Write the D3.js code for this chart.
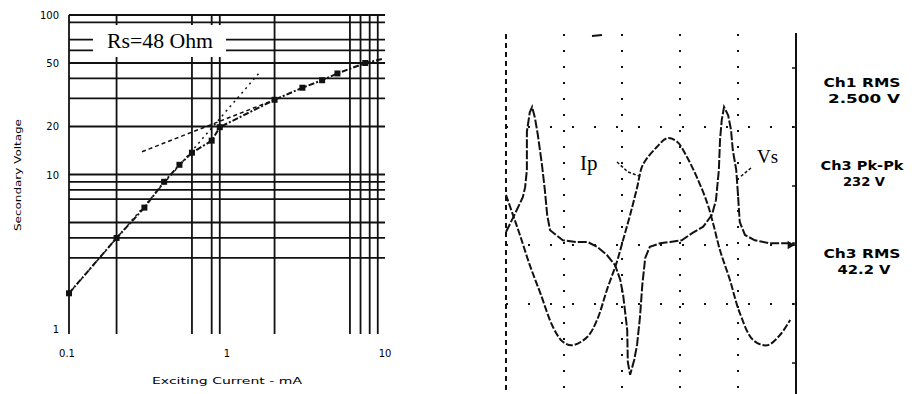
<!DOCTYPE html>
<html>
<head>
<meta charset="utf-8">
<script src="https://cdn.jsdelivr.net/npm/d3@7"></script>
<style>
  body { margin: 0; background: #fff; }
  svg { display: block; }
</style>
</head>
<body>
<svg id="chart"></svg>
<script>
const width = 922, height = 394;

// ---- left chart: excitation curve (log-log) ----
const yGridValues = [100, 90, 70, 60, 50, 40, 30, 20, 10, 9, 8, 7, 5, 4, 3];
const xGridValues = [0.1, 0.2, 0.6, 0.8, 0.9, 2, 6, 7, 8, 9];
const yTickLabels = [100, 50, 20, 10, 1];
const xTickLabels = ["0.1", "1", "10"];
const xTickValues = [0.1, 1, 10];

// measured points, current in mA, voltage in V
const excCurrent = [0.1, 0.2, 0.3, 0.4, 0.5, 0.6, 0.8, 0.9, 2, 3, 4, 5, 7.5, 9.6];
const excVoltage = [1.8, 4.0, 6.2, 9.0, 11.5, 13.7, 16.3, 19.8, 29.4, 35, 39, 43, 50, 53];
const markerIdx = [0, 1, 2, 3, 4, 5, 6, 7, 8, 9, 10, 11, 12];

// tangent lines drawn through the curve
const steepLine = [{ x: 0.1, y: 1.8 }, { x: 1.62, y: 44 }];
const shallowLine = [{ x: 0.29, y: 13.9 }, { x: 2, y: 29.4 }];

// ---- right chart: scope traces (x, y in divisions) ----
const ipTime = [0, 0.12, 0.24, 0.41, 0.59, 0.81, 0.98, 1.14, 1.4, 1.57, 1.74, 1.91, 2.02, 2.14, 2.26, 2.36, 2.6, 2.78, 2.95, 3.12, 3.29, 3.47, 3.57, 3.69, 3.86, 4.03, 4.26, 4.5, 4.72, 4.9];
const ipValue = [0.85, 0.51, 0.17, -0.34, -0.81, -1.39, -1.64, -1.7, -1.56, -1.27, -0.76, -0.29, 0.09, 0.51, 0.97, 1.36, 1.66, 1.81, 1.75, 1.49, 1.15, 0.71, 0.37, -0.09, -0.59, -1.15, -1.61, -1.7, -1.53, -1.27];

const vsTime = [0, 0.16, 0.29, 0.33, 0.36, 0.36, 0.41, 0.45, 0.5, 0.55, 0.62, 0.67, 0.71, 0.76, 0.98, 1.22, 1.41, 1.57, 1.74, 1.88, 1.97, 2.02, 2.09, 2.1, 2.14, 2.21, 2.26, 2.31, 2.35, 2.4, 2.48, 2.66, 2.83, 3.03, 3.21, 3.4, 3.55, 3.62, 3.67, 3.69, 3.72, 3.76, 3.83, 3.88, 3.91, 3.97, 4.0, 4.03, 4.12, 4.29, 4.55, 4.98];
const vsValue = [0.22, 0.54, 0.81, 0.98, 1.27, 1.92, 2.25, 2.34, 2.15, 1.86, 1.36, 0.93, 0.51, 0.25, 0.08, 0.05, 0.05, -0.03, -0.17, -0.34, -0.59, -0.85, -1.44, -1.98, -2.2, -1.95, -1.69, -1.22, -0.68, -0.22, -0.03, 0.03, 0.05, 0.08, 0.2, 0.31, 0.51, 0.76, 1.27, 1.78, 2.12, 2.34, 2.2, 1.95, 1.61, 1.27, 0.85, 0.39, 0.17, 0.08, 0.03, 0.03];

const gridDivX = [1, 2, 3, 4];
const gridDivY = [2, 0, -1];
const edgeTicks = [3, 2, 1, 0, -1, -2];

const readoutTitles = ["Ch1 RMS", "Ch3 Pk-Pk", "Ch3 RMS"];
const readoutValues = ["2.500 V", "232 V", "42.2 V"];

const svg = d3.select("#chart")
    .attr("width", width)
    .attr("height", height)
    .attr("viewBox", [0, 0, width, height]);

// ===== left chart =====
const x = d3.scaleLog().domain([0.1, 10]).range([69, 385]);
const y = d3.scaleLog().domain([1, 100]).range([334, 15]);

const left = svg.append("g");

left.append("g")
    .selectAll("line")
    .data(yGridValues)
    .enter()
    .append("line")
    .attr("x1", x(0.1))
    .attr("x2", x(10))
    .attr("y1", d => y(d))
    .attr("y2", d => y(d))
    .attr("stroke", "#111")
    .attr("stroke-width", 1.8);

left.append("g")
    .selectAll("line")
    .data(xGridValues)
    .enter()
    .append("line")
    .attr("x1", d => x(d))
    .attr("x2", d => x(d))
    .attr("y1", y(100))
    .attr("y2", y(1))
    .attr("stroke", "#111")
    .attr("stroke-width", 1.8);

// label box covers the grid
left.append("rect")
    .attr("x", 93).attr("y", 25)
    .attr("width", 133).attr("height", 32)
    .attr("fill", "#fff");

left.append("text")
    .attr("x", 107).attr("y", 48)
    .attr("textLength", 106)
    .attr("lengthAdjust", "spacingAndGlyphs")
    .style("font-family", "'Liberation Serif', 'DejaVu Serif', serif")
    .style("font-size", "20px")
    .text("Rs=48 Ohm");

// tick labels
left.append("g")
    .selectAll("text")
    .data(yTickLabels)
    .enter()
    .append("text")
    .attr("x", 59)
    .attr("y", d => y(d) + (d === 1 ? -1 : 4))
    .attr("text-anchor", "end")
    .style("font-family", "'DejaVu Sans', sans-serif")
    .style("font-size", "10px")
    .text(d => d);

left.append("g")
    .selectAll("text")
    .data(xTickValues)
    .enter()
    .append("text")
    .attr("x", d => x(d) + (d === 0.1 ? -2 : 0))
    .attr("y", 357)
    .attr("text-anchor", "middle")
    .style("font-family", "'DejaVu Sans', sans-serif")
    .style("font-size", "10px")
    .text((d, i) => xTickLabels[i]);

left.append("text")
    .attr("transform", "translate(21,175) rotate(-90)")
    .attr("text-anchor", "middle")
    .attr("textLength", 112)
    .attr("lengthAdjust", "spacingAndGlyphs")
    .attr("fill", "#000")
    .style("font-family", "'DejaVu Sans', sans-serif")
    .style("font-size", "9px")
    .text("Secondary Voltage");

left.append("text")
    .attr("x", 227).attr("y", 384)
    .attr("text-anchor", "middle")
    .attr("textLength", 150)
    .attr("lengthAdjust", "spacingAndGlyphs")
    .style("font-family", "'DejaVu Sans', sans-serif")
    .style("font-size", "9px")
    .text("Exciting Current - mA");

// curves
const pts = excCurrent.map((c, i) => ({ x: c, y: excVoltage[i] }));
const line = d3.line().x(d => x(d.x)).y(d => y(d.y));

left.append("path")
    .attr("d", line(steepLine))
    .attr("fill", "none")
    .attr("stroke", "#111")
    .attr("stroke-width", 1.5)
    .attr("stroke-dasharray", "2,4");

left.append("path")
    .attr("d", line(shallowLine))
    .attr("fill", "none")
    .attr("stroke", "#111")
    .attr("stroke-width", 1.5)
    .attr("stroke-dasharray", "4,3");

left.append("path")
    .attr("d", line(pts))
    .attr("fill", "none")
    .attr("stroke", "#111")
    .attr("stroke-width", 2)
    .attr("stroke-dasharray", "6,2,2,2");

left.append("g")
    .selectAll("path")
    .data(markerIdx.map(i => pts[i]))
    .enter()
    .append("path")
    .attr("transform", d => `translate(${x(d.x)},${y(d.y)})`)
    .attr("d", d3.symbol().type(d3.symbolSquare).size(36))
    .attr("fill", "#111");

// ===== right chart: scope capture =====
const sx = d3.scaleLinear().domain([0, 5]).range([506, 796]);
const sy = d3.scaleLinear().domain([0, 2]).range([245, 127]);

const scope = svg.append("g");

// dotted graticule
scope.append("g")
    .selectAll("line")
    .data(gridDivX)
    .enter()
    .append("line")
    .attr("x1", d => sx(d)).attr("x2", d => sx(d))
    .attr("y1", 34).attr("y2", 394)
    .attr("stroke", "#111")
    .attr("stroke-width", 2)
    .attr("stroke-dasharray", "2,14");

scope.append("g")
    .selectAll("line")
    .data(gridDivY)
    .enter()
    .append("line")
    .attr("x1", sx(0)).attr("x2", sx(5))
    .attr("y1", d => sy(d)).attr("y2", d => sy(d))
    .attr("stroke", "#111")
    .attr("stroke-width", 2)
    .attr("stroke-dasharray", "2,20");

// left edge (dense dots) and right frame
scope.append("line")
    .attr("x1", sx(0)).attr("x2", sx(0))
    .attr("y1", 34).attr("y2", 394)
    .attr("stroke", "#111")
    .attr("stroke-width", 2)
    .attr("stroke-dasharray", "5,4");

scope.append("line")
    .attr("x1", sx(5)).attr("x2", sx(5))
    .attr("y1", 33).attr("y2", 394)
    .attr("stroke", "#111")
    .attr("stroke-width", 2);

scope.append("g")
    .selectAll("line")
    .data(edgeTicks)
    .enter()
    .append("line")
    .attr("x1", sx(5) - 4).attr("x2", sx(5))
    .attr("y1", d => sy(d)).attr("y2", d => sy(d))
    .attr("stroke", "#111")
    .attr("stroke-width", 1.5);

// trigger mark at the top
scope.append("line")
    .attr("x1", 592).attr("x2", 602)
    .attr("y1", 36).attr("y2", 35)
    .attr("stroke", "#111")
    .attr("stroke-width", 2);

// ground marker for ch3
scope.append("path")
    .attr("d", d3.symbol().type(d3.symbolTriangle).size(30))
    .attr("transform", `translate(${sx(5) - 6},${sy(0)}) rotate(90)`)
    .attr("fill", "#111");

const ipPts = ipTime.map((t, i) => ({ t, v: ipValue[i] }));
const vsPts = vsTime.map((t, i) => ({ t, v: vsValue[i] }));

scope.append("path")
    .attr("d", d3.line().x(d => sx(d.t)).y(d => sy(d.v)).curve(d3.curveCatmullRom)(ipPts))
    .attr("fill", "none")
    .attr("stroke", "#111")
    .attr("stroke-width", 2)
    .attr("stroke-dasharray", "7,2");

scope.append("path")
    .attr("d", d3.line().x(d => sx(d.t)).y(d => sy(d.v))(vsPts))
    .attr("fill", "none")
    .attr("stroke", "#111")
    .attr("stroke-width", 2)
    .attr("stroke-dasharray", "9,2");

// trace labels with pointers
scope.append("text")
    .attr("x", 580).attr("y", 170)
    .style("font-family", "'Liberation Serif', 'DejaVu Serif', serif")
    .style("font-size", "21px")
    .text("Ip");

scope.append("path")
    .attr("d", "M617,162 L628,172 L642,177")
    .attr("fill", "none")
    .attr("stroke", "#111")
    .attr("stroke-width", 1.5)
    .attr("stroke-dasharray", "3,2");

scope.append("text")
    .attr("x", 757).attr("y", 163)
    .style("font-family", "'Liberation Serif', 'DejaVu Serif', serif")
    .style("font-size", "19px")
    .text("Vs");

scope.append("path")
    .attr("d", "M751,168 L740,177")
    .attr("fill", "none")
    .attr("stroke", "#111")
    .attr("stroke-width", 1.5)
    .attr("stroke-dasharray", "3,2");

// measurement readouts
const readoutY = [87, 170, 258];
const titleLen = [77, 83, 77];
const valueLen = [72, 42, 53];
const readout = svg.append("g")
    .selectAll("g")
    .data(readoutTitles)
    .enter()
    .append("g");

readout.append("text")
    .attr("x", 862)
    .attr("y", (d, i) => readoutY[i])
    .attr("text-anchor", "middle")
    .attr("textLength", (d, i) => titleLen[i])
    .attr("lengthAdjust", "spacingAndGlyphs")
    .style("font-family", "'DejaVu Sans', sans-serif")
    .style("font-size", "13px")
    .style("font-weight", "bold")
    .text(d => d);

readout.append("text")
    .attr("x", 864)
    .attr("y", (d, i) => readoutY[i] + 16)
    .attr("text-anchor", "middle")
    .attr("textLength", (d, i) => valueLen[i])
    .attr("lengthAdjust", "spacingAndGlyphs")
    .style("font-family", "'DejaVu Sans', sans-serif")
    .style("font-size", "13px")
    .style("font-weight", "bold")
    .text((d, i) => readoutValues[i]);
</script>
</body>
</html>
